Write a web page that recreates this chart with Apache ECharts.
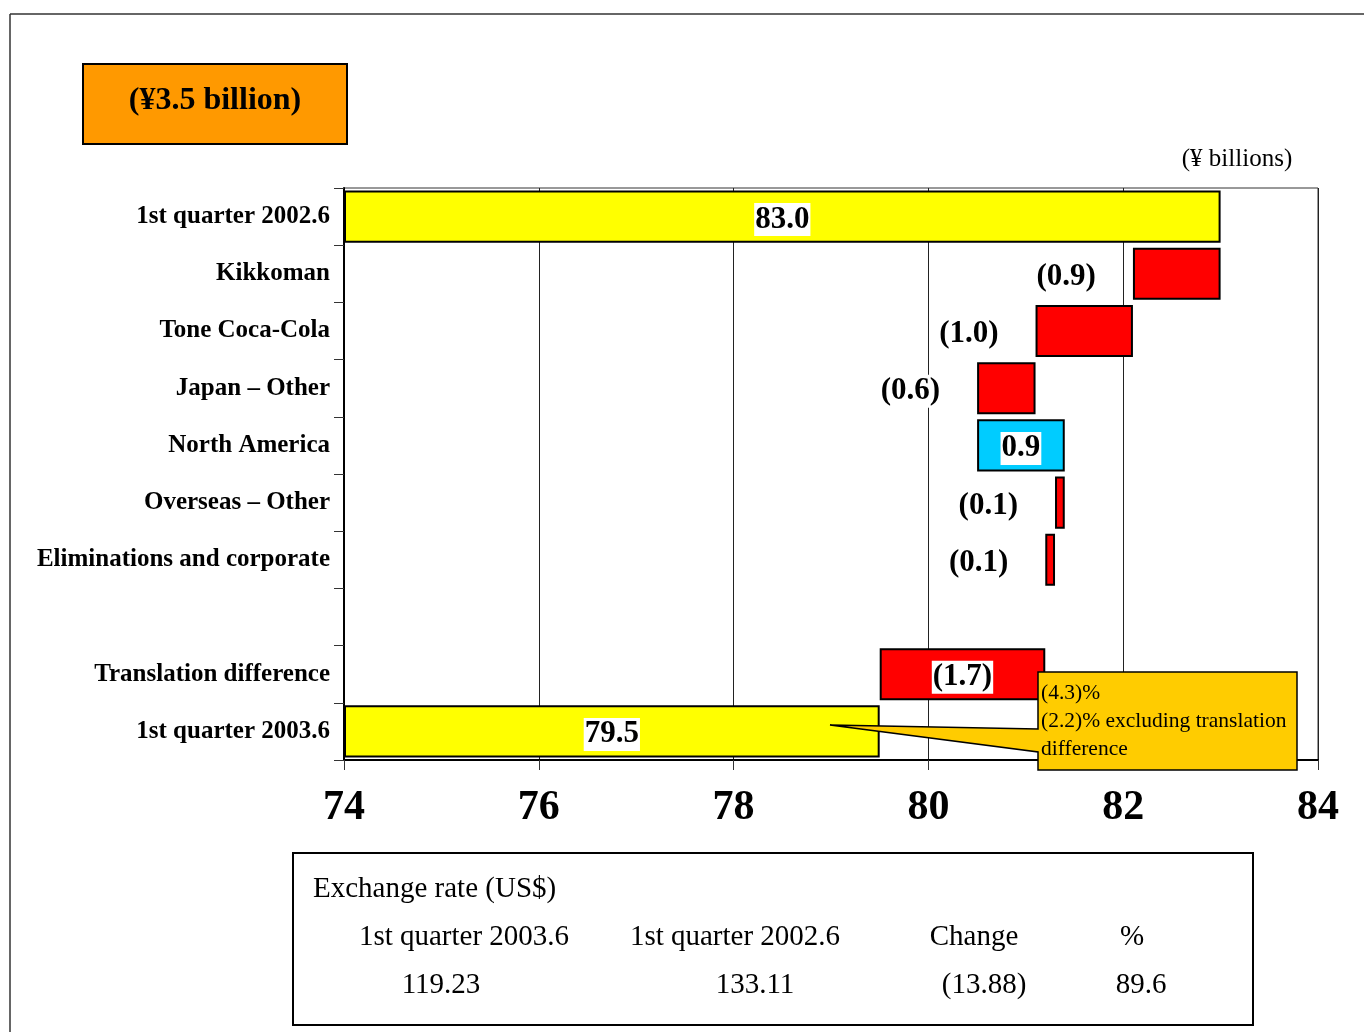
<!DOCTYPE html>
<html>
<head>
<meta charset="utf-8">
<script src="https://cdn.jsdelivr.net/npm/echarts@6/dist/echarts.min.js"></script>
<style>
  html, body { margin: 0; padding: 0; background: #fff; }
  #chart { width: 1364px; height: 1032px; }
</style>
</head>
<body>
<div id="chart"></div>
<script>
  // ¥ billions, waterfall from 1Q 2002.6 to 1Q 2003.6
  const categories = [
    '1st quarter 2002.6',
    'Kikkoman',
    'Tone Coca-Cola',
    'Japan \u2013 Other',
    'North America',
    'Overseas \u2013 Other',
    'Eliminations and corporate',
    '',
    'Translation difference',
    '1st quarter 2003.6'
  ]
  const changes = [83.0, -0.9, -1.0, -0.6, 0.9, -0.1, -0.1, null, -1.7, 79.5]
  const kinds = ['total', 'change', 'change', 'change', 'change', 'change', 'change', null, 'change', 'total']
  const xTicks = [74, 76, 78, 80, 82, 84]

  const tableRows = [
    ['1st quarter 2003.6', '1st quarter 2002.6', 'Change', '%'],
    ['119.23', '133.11', '(13.88)', '89.6']
  ]
  const calloutLines = ['(4.3)%', '(2.2)% excluding translation', 'difference']

  const AXIS_MIN = xTicks[0]
  const AXIS_MAX = xTicks[xTicks.length - 1]
  const FONT = '"Liberation Serif", "Times New Roman", serif'

  const insideLabels = new Set(['1st quarter 2002.6', 'North America', 'Translation difference', '1st quarter 2003.6'])

  // build floating bars
  let running = 0
  const base = []
  const bars = []
  changes.forEach((v, i) => {
    if (v === null) {
      base.push('-')
      bars.push('-')
      return
    }
    let low, high
    if (kinds[i] === 'total') {
      low = AXIS_MIN
      high = v
      running = v
    } else {
      const prev = running
      running = +(running + v).toFixed(2)
      low = Math.min(prev, running)
      high = Math.max(prev, running)
    }
    const color = kinds[i] === 'total' ? '#FFFF00' : (v > 0 ? '#00CCFF' : '#FF0000')
    const inside = insideLabels.has(categories[i])
    base.push(low)
    bars.push({
      value: +(high - low).toFixed(2),
      change: v,
      itemStyle: { color: color },
      label: inside
        ? { position: 'inside' }
        : { position: 'left', distance: 36 }
    })
  })

  const fmt = (v) => v < 0 ? '(' + Math.abs(v).toFixed(1) + ')' : v.toFixed(1)

  const chart = echarts.init(document.getElementById('chart'))

  const tableText = []
  const colX = [464, 735, 974, 1132]
  const valX = [441, 755, 984, 1141]
  tableRows[0].forEach((t, i) => {
    tableText.push({ type: 'text', x: colX[i], y: 937, style: { text: t, font: '29px ' + FONT, fill: '#000', align: 'center', verticalAlign: 'middle' } })
  })
  tableRows[1].forEach((t, i) => {
    tableText.push({ type: 'text', x: valX[i], y: 985, style: { text: t, font: '29px ' + FONT, fill: '#000', align: 'center', verticalAlign: 'middle' } })
  })

  chart.setOption({
    animation: false,
    textStyle: { fontFamily: FONT },
    grid: {
      left: 344,
      top: 188,
      width: 974,
      height: 572,
      show: true,
      borderColor: '#333',
      borderWidth: 1,
      containLabel: false
    },
    xAxis: {
      type: 'value',
      min: AXIS_MIN,
      max: AXIS_MAX,
      interval: 2,
      axisLine: { show: true, lineStyle: { color: '#000', width: 2 } },
      axisTick: { show: true, length: 10, lineStyle: { color: '#333', width: 1 } },
      splitLine: { show: true, lineStyle: { color: '#222', width: 1 } },
      axisLabel: { fontSize: 42, fontWeight: 'bold', color: '#000', fontFamily: FONT, margin: 27 }
    },
    yAxis: {
      type: 'category',
      inverse: true,
      data: categories,
      axisLine: { show: true, lineStyle: { color: '#000', width: 2 } },
      axisTick: { show: true, length: 10, lineStyle: { color: '#333', width: 1 } },
      axisLabel: { fontSize: 25, fontWeight: 'bold', color: '#000', fontFamily: FONT, margin: 14, padding: [4, 0, 0, 0] }
    },
    series: [
      {
        name: 'base',
        type: 'bar',
        stack: 'wf',
        silent: true,
        barWidth: '91%',
        itemStyle: { color: 'transparent' },
        data: base
      },
      {
        name: 'value',
        type: 'bar',
        stack: 'wf',
        barWidth: '91%',
        itemStyle: { borderColor: '#000', borderWidth: 2 },
        label: {
          show: true,
          fontSize: 31,
          fontWeight: 'bold',
          color: '#000',
          fontFamily: FONT,
          backgroundColor: '#fff',
          padding: [2, 1, 0, 1],
          offset: [0, 3],
          formatter: (p) => fmt(p.data.change)
        },
        data: bars
      }
    ],
    graphic: [
      // outer frame
      { type: 'line', shape: { x1: 10, y1: 14, x2: 1364, y2: 14 }, style: { stroke: '#333', lineWidth: 1.5 } },
      { type: 'line', shape: { x1: 10, y1: 14, x2: 10, y2: 1032 }, style: { stroke: '#333', lineWidth: 1.5 } },
      // headline box
      { type: 'rect', shape: { x: 83, y: 64, width: 264, height: 80 }, style: { fill: '#FF9900', stroke: '#000', lineWidth: 2 } },
      { type: 'text', x: 215, y: 101, style: { text: '(\u00a53.5 billion)', font: 'bold 32px ' + FONT, fill: '#000', align: 'center', verticalAlign: 'middle' } },
      // unit
      { type: 'text', x: 1237, y: 159, style: { text: '(\u00a5 billions)', font: '25px ' + FONT, fill: '#000', align: 'center', verticalAlign: 'middle' } },
      // callout
      {
        type: 'polygon',
        z: 100,
        shape: { points: [[1038, 672], [1297, 672], [1297, 770], [1038, 770], [1038, 752], [830, 725], [1038, 729]] },
        style: { fill: '#FFCC00', stroke: '#000', lineWidth: 1.5 }
      },
      { type: 'text', z: 101, x: 1041, y: 693, style: { text: calloutLines[0], font: '21.5px ' + FONT, fill: '#000', verticalAlign: 'middle' } },
      { type: 'text', z: 101, x: 1041, y: 721, style: { text: calloutLines[1], font: '21.5px ' + FONT, fill: '#000', verticalAlign: 'middle' } },
      { type: 'text', z: 101, x: 1041, y: 749, style: { text: calloutLines[2], font: '21.5px ' + FONT, fill: '#000', verticalAlign: 'middle' } },
      // exchange rate table
      { type: 'rect', shape: { x: 293, y: 853, width: 960, height: 172 }, style: { fill: '#fff', stroke: '#000', lineWidth: 2 } },
      { type: 'text', x: 313, y: 889, style: { text: 'Exchange rate (US$)', font: '29px ' + FONT, fill: '#000', verticalAlign: 'middle' } }
    ].concat(tableText)
  })
</script>
</body>
</html>
